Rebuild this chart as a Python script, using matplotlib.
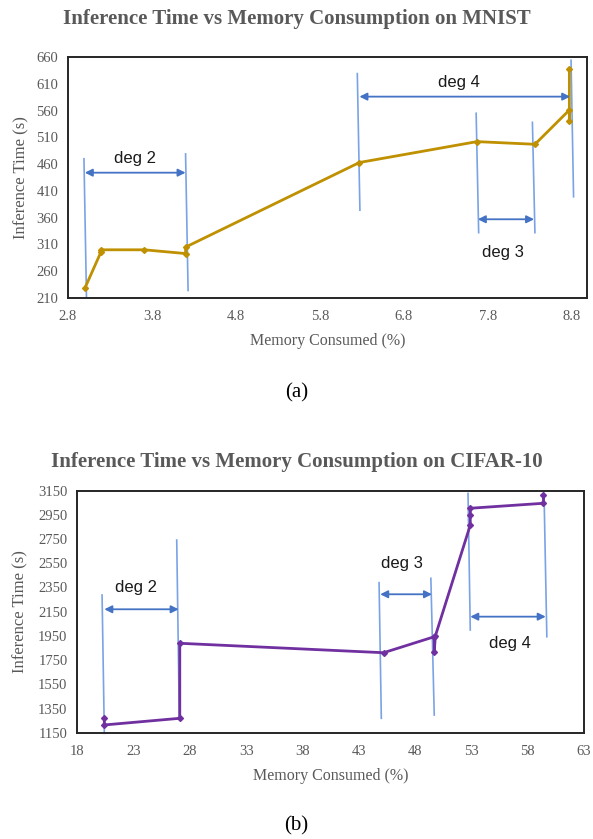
import matplotlib
matplotlib.use("Agg")
import matplotlib.pyplot as plt

# ---- Data: MNIST (a) ----
mnist_mem = [3.0, 3.19, 3.19, 3.71, 4.2, 4.2, 6.27, 7.67, 8.36, 8.77, 8.77, 8.77]
mnist_time = [228, 295, 300, 300, 293, 305, 463, 502, 497, 561, 541, 637]
mnist_xticks = [2.8, 3.8, 4.8, 5.8, 6.8, 7.8, 8.8]
mnist_yticks = [210, 260, 310, 360, 410, 460, 510, 560, 610, 660]
# brackets: (label, x_start, x_end, arrow_y, text_x, text_y)
mnist_brackets = [("deg 2", 3.0, 4.2, 444, 3.6, 470),
                  ("deg 4", 6.27, 8.78, 586, 7.46, 612),
                  ("deg 3", 7.68, 8.35, 357, 7.98, 295)]
# vertical guide lines: (x_top, y_top, x_bottom, y_bottom)
mnist_guides = [(2.99, 470, 3.02, 212), (4.2, 479, 4.23, 224),
                (6.245, 629, 6.276, 374), (7.66, 555, 7.69, 332),
                (8.33, 538, 8.36, 332), (8.79, 654, 8.82, 399)]

# ---- Data: CIFAR-10 (b) ----
cifar_mem = [20.4, 20.4, 27.1, 27.1, 45.2, 49.7, 49.7, 49.8, 52.9, 52.9, 52.9, 59.4, 59.4]
cifar_time = [1269, 1214, 1269, 1889, 1811, 1943, 1819, 1950, 2866, 2949, 3005, 3046, 3114]
cifar_xticks = [18, 23, 28, 33, 38, 43, 48, 53, 58, 63]
cifar_yticks = [1150, 1350, 1550, 1750, 1950, 2150, 2350, 2550, 2750, 2950, 3150]
cifar_brackets = [("deg 2", 20.4, 27.0, 2170, 23.2, 2352),
                  ("deg 3", 44.9, 49.5, 2294, 46.8, 2550),
                  ("deg 4", 52.9, 59.6, 2109, 56.4, 1889)]
cifar_guides = [(20.2, 2288, 20.4, 1145), (26.83, 2742, 27.06, 1260),
                (44.8, 2390, 45.0, 1269), (49.4, 2426, 49.7, 1296),
                (52.7, 3128, 52.9, 1999), (59.45, 3128, 59.7, 1943)]

SERIF = ["Liberation Serif", "DejaVu Serif"]
GRAY = "#595959"
GUIDE = "#7AA3E6"
ARROW = "#4472C4"

fig = plt.figure(figsize=(5.93, 8.39), dpi=100)
fig.patch.set_facecolor("white")


def draw(ax, xs, ys, color, xticks, yticks, xlim, ylim, guides, brackets,
         title, title_y, cap, cap_y, ylabelpad):
    ax.plot(xs, ys, color=color, lw=2.0, marker="D", ms=3, mec=color, mfc=color, zorder=3)
    for (x0, y0, x1, y1) in guides:
        ax.plot([x0, x1], [y0, y1], color=GUIDE, lw=1.2, zorder=2, clip_on=False)
    for (lab, xa, xb, ya, tx, ty) in brackets:
        ax.annotate("", xy=(xa, ya), xytext=(xb, ya),
                    arrowprops=dict(arrowstyle="<|-|>", color=ARROW, lw=1.3,
                                    mutation_scale=11, shrinkA=0, shrinkB=0), zorder=4)
        ax.text(tx, ty, lab, ha="center", va="center", fontsize=12,
                family=["Liberation Sans", "DejaVu Sans"], color="#1a1a1a")
    ax.set_xlim(*xlim)
    ax.set_ylim(*ylim)
    ax.set_xticks(xticks)
    ax.set_yticks(yticks)
    ax.set_xticklabels([f"{t:g}" for t in xticks])
    ax.set_yticklabels([f"{t:g}" for t in yticks])
    ax.tick_params(length=0, labelsize=10.5, labelcolor=GRAY)
    ax.tick_params(axis="x", pad=9)
    ax.tick_params(axis="y", pad=7)
    for lb in ax.get_xticklabels() + ax.get_yticklabels():
        lb.set_family(SERIF)
    for s in ax.spines.values():
        s.set_color("#262626")
        s.set_linewidth(1.4)
    ax.set_ylabel("Inference Time (s)", fontsize=12, color=GRAY, family=SERIF, labelpad=ylabelpad)
    ax.set_xlabel("Memory Consumed (%)", fontsize=11.5, color=GRAY, family=SERIF, labelpad=7)
    fig.text(0.5, title_y, title, ha="center", va="center", fontsize=15,
             fontweight="bold", color=GRAY, family=SERIF)
    fig.text(0.5, cap_y, cap, ha="center", va="center", fontsize=15, color="black", family=SERIF)


ax1 = fig.add_axes([68 / 593, 1 - 298 / 839, 519 / 593, 241 / 839])
draw(ax1, mnist_mem, mnist_time, "#BF9000", mnist_xticks, mnist_yticks,
     (2.8, 8.98), (210, 660), mnist_guides, mnist_brackets,
     "Inference Time vs Memory Consumption on MNIST", 1 - 19 / 839, "(a)", 1 - 393 / 839, 5)

ax2 = fig.add_axes([77.3 / 593, 1 - 732.7 / 839, 506.7 / 593, 242 / 839])
draw(ax2, cifar_mem, cifar_time, "#7030A0", cifar_xticks, cifar_yticks,
     (18, 63), (1150, 3150), cifar_guides, cifar_brackets,
     "Inference Time vs Memory Consumption on CIFAR-10", 1 - 462 / 839, "(b)", 1 - 826 / 839, 7)

fig.savefig("out.png", dpi=100)
